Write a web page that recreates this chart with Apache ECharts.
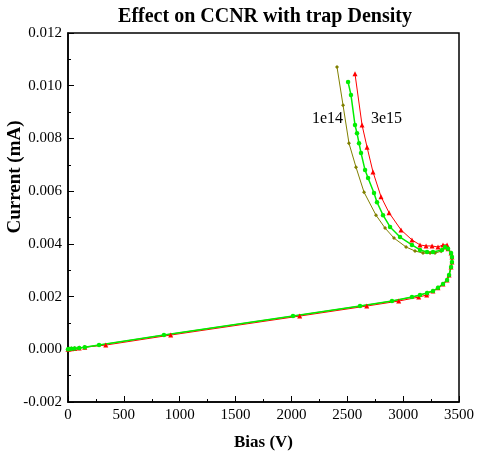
<!DOCTYPE html>
<html>
<head>
<meta charset="utf-8">
<script src="https://cdn.jsdelivr.net/npm/echarts@6/dist/echarts.min.js"></script>
<style>
  html, body { margin: 0; padding: 0; background: #fff; }
  #chart { width: 477px; height: 459px; }
</style>
</head>
<body>
<div id="chart"></div>
<script>
// 共用的低偏压段 (Bias V, Current mA)
var lowBias = [0, 10, 30, 60, 100, 150, 278, 859, 2014, 2614, 2900, 3079, 3151, 3214, 3267, 3312, 3357, 3393, 3411, 3429, 3437, 3437, 3429, 3402, 3375];
var lowCurrent = [0, 0.00001, 0.00002, 0.00003, 0.00005, 0.00008, 0.00016, 0.00054, 0.00126, 0.00164, 0.00183, 0.00198, 0.00206, 0.00214, 0.00221, 0.00233, 0.00248, 0.00263, 0.00282, 0.00312, 0.00331, 0.0035, 0.00365, 0.00381, 0.00388];

// 回折段
var oliveBias = [3340, 3285, 3241, 3178, 3106, 3026, 2918, 2838, 2757, 2650, 2578, 2515, 2462, 2408];
var oliveCurrent = [0.00372, 0.00365, 0.00365, 0.00365, 0.00373, 0.00388, 0.00422, 0.0046, 0.00509, 0.00596, 0.00691, 0.00782, 0.00926, 0.01071];

var greenBias = [3348, 3267, 3214, 3151, 3079, 2972, 2883, 2820, 2766, 2739, 2686, 2659, 2623, 2605, 2587, 2569, 2533, 2507];
var greenCurrent = [0.00377, 0.00369, 0.00369, 0.00377, 0.00396, 0.00426, 0.00464, 0.00509, 0.00558, 0.00593, 0.0065, 0.0068, 0.00745, 0.00782, 0.0082, 0.00851, 0.00965, 0.01014];

var redBias = [3393, 3357, 3312, 3259, 3205, 3151, 3079, 2981, 2874, 2802, 2730, 2677, 2632, 2569];
var redCurrent = [0.00396, 0.00396, 0.00388, 0.00392, 0.00392, 0.00396, 0.00415, 0.00453, 0.00518, 0.00579, 0.00673, 0.00767, 0.00851, 0.01045];

var redShift = 60; // 红色标记在低段略微右移

var xTicks = [0, 500, 1000, 1500, 2000, 2500, 3000, 3500];
var yTicks = [-0.002, 0.000, 0.002, 0.004, 0.006, 0.008, 0.010, 0.012];

function buildSeries(bias, cur, upB, upC, shift) {
    var out = [];
    for (var i = 0; i < bias.length; i++) {
        var b = bias[i];
        if (shift && i > 5 && i < 13) b = b + shift;
        out.push([b, cur[i]]);
    }
    for (var j = 0; j < upB.length; j++) {
        out.push([upB[j], upC[j]]);
    }
    return out;
}

var chart = echarts.init(document.getElementById('chart'));
var serif = 'Liberation Serif, Times New Roman, serif';

var option = {
    animation: false,
    backgroundColor: '#fff',
    title: {
        text: 'Effect on CCNR with trap Density',
        left: 260, top: 2, textAlign: 'center',
        textStyle: { fontFamily: serif, fontWeight: 'bold', fontSize: 20, color: '#000' }
    },
    grid: {
        left: 68, right: 18, top: 33, bottom: 57,
        outerBoundsMode: 'none', containLabel: false,
        show: true, borderColor: '#000', borderWidth: 1.5, backgroundColor: 'transparent'
    },
    xAxis: {
        type: 'value',
        min: xTicks[0], max: xTicks[xTicks.length - 1], interval: 500,
        name: 'Bias (V)', nameLocation: 'middle', nameGap: 32, nameMoveOverlap: false,
        nameTextStyle: { fontFamily: serif, fontWeight: 'bold', fontSize: 17, color: '#000' },
        axisLine: { show: true, onZero: false, lineStyle: { color: '#000', width: 1.5 } },
        axisTick: { show: true, inside: true, length: 6, lineStyle: { color: '#000' } },
        minorTick: { show: true, splitNumber: 2, length: 3, lineStyle: { color: '#000' } },
        axisLabel: {
            fontFamily: serif, fontSize: 15, color: '#000', margin: 6,
            formatter: function (v) { return String(v); }
        },
        splitLine: { show: false }
    },
    yAxis: {
        type: 'value',
        min: yTicks[0], max: yTicks[yTicks.length - 1], interval: 0.002,
        axisLine: { show: true, onZero: false, lineStyle: { color: '#000', width: 1.5 } },
        axisTick: { show: true, inside: true, length: 6, lineStyle: { color: '#000' } },
        minorTick: { show: true, splitNumber: 2, length: 3, lineStyle: { color: '#000' } },
        axisLabel: {
            fontFamily: serif, fontSize: 15, color: '#000', margin: 6,
            formatter: function (v) { return v.toFixed(3); }
        },
        splitLine: { show: false }
    },
    series: [
        {
            name: '3e15', type: 'line',
            data: buildSeries(lowBias, lowCurrent, redBias, redCurrent, redShift),
            symbol: 'triangle', symbolSize: 5,
            lineStyle: { color: '#ff0000', width: 1 },
            itemStyle: { color: '#ff0000' }
        },
        {
            name: '1e14', type: 'line',
            data: buildSeries(lowBias, lowCurrent, oliveBias, oliveCurrent, 0),
            symbol: 'diamond', symbolSize: 4,
            lineStyle: { color: '#808000', width: 1 },
            itemStyle: { color: '#808000' }
        },
        {
            name: 'mid', type: 'line',
            data: buildSeries(lowBias, lowCurrent, greenBias, greenCurrent, 0),
            symbol: 'circle', symbolSize: 4.5,
            lineStyle: { color: '#00ee00', width: 1.5 },
            itemStyle: { color: '#00ee00' }
        }
    ],
    graphic: [
        {
            type: 'text', x: 15, y: 177, rotation: Math.PI / 2,
            style: {
                text: 'Current (mA)', font: 'bold 19px ' + serif, fill: '#000',
                textAlign: 'center', textVerticalAlign: 'middle'
            }
        },
        { type: 'text', left: 312, top: 111, style: { text: '1e14', font: '16px ' + serif, fill: '#000' } },
        { type: 'text', left: 371, top: 111, style: { text: '3e15', font: '16px ' + serif, fill: '#000' } }
    ]
};
chart.setOption(option);
</script>
</body>
</html>
